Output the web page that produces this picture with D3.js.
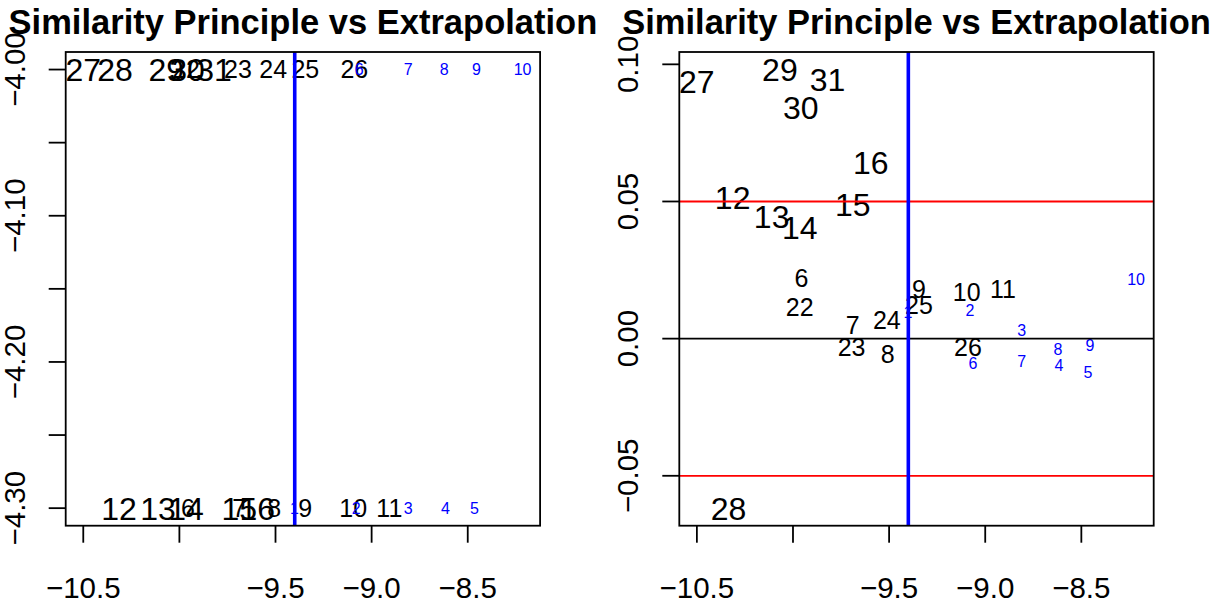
<!DOCTYPE html>
<html lang="en">
<head>
  <meta charset="UTF-8">
  <script src="https://d3js.org/d3.v7.min.js"></script>
  <style>
    body { margin: 0; background: #fff; }
    svg text { font-family: "Liberation Sans", Arial, Helvetica, sans-serif; }
    .title { font-weight: bold; font-size: 34.5px; }
    .tick-label { font-size: 29.5px; }
  </style>
</head>
<body>
  <div id="chart"></div>

  <script>
    // black labels (ids) with their x and y (right panel) values
    var blackIds = [6, 7, 8, 9, 10, 11, 12, 13, 14, 15, 16, 22, 23, 24, 25, 26, 27, 28, 29, 30, 31];
    var blackX = [-9.956, -9.689, -9.507, -9.345, -9.096, -8.908, -10.314, -10.111, -9.965, -9.689, -9.595,
                  -9.965, -9.695, -9.512, -9.345, -9.09, -10.5, -10.335, -10.068, -9.96, -9.82];
    var blackY = [0.0222, 0.0050, -0.0056, 0.0181, 0.0170, 0.0181, 0.0513, 0.0444, 0.0404, 0.0488, 0.0641,
                  0.0116, -0.0030, 0.0068, 0.0123, -0.0030, 0.0937, -0.0618, 0.0981, 0.0842, 0.0944];
    var blackLeftY = [-4.3, -4.3, -4.3, -4.3, -4.3, -4.3, -4.3, -4.3, -4.3, -4.3, -4.3,
                      -4.0, -4.0, -4.0, -4.0, -4.0, -4.0, -4.0, -4.0, -4.0, -4.0];
    var bigIds = [12, 13, 14, 15, 16, 27, 28, 29, 30, 31];

    // blue labels
    var blueIds = [1, 2, 3, 4, 5, 6, 7, 8, 9, 10];
    var blueX = [-9.402, -9.08, -8.81, -8.616, -8.465, -9.064, -8.81, -8.622, -8.455, -8.215];
    var blueY = [0.0097, 0.0105, 0.0032, -0.0096, -0.0122, -0.0089, -0.0081, -0.0038, -0.0023, 0.0218];
    var blueLeftY = [-4.3, -4.3, -4.3, -4.3, -4.3, -4.0, -4.0, -4.0, -4.0, -4.0];

    var xTicks = [-10.5, -10.0, -9.5, -9.0, -8.5];
    var xTickLabels = ["\u221210.5", "", "\u22129.5", "\u22129.0", "\u22128.5"];
    var leftYTicks = [-4.00, -4.05, -4.10, -4.15, -4.20, -4.25, -4.30];
    var leftYTickLabels = ["\u22124.00", "", "\u22124.10", "", "\u22124.20", "", "\u22124.30"];
    var rightYTicks = [0.10, 0.05, 0.00, -0.05];
    var rightYTickLabels = ["0.10", "0.05", "0.00", "\u22120.05"];

    var cutX = -9.4;
    var redLines = [0.05, -0.05];
    var titleText = "Similarity Principle vs Extrapolation";

    var width = 1225, height = 603;
    var plotTop = 52, plotBottom = 525.7;

    var svg = d3.select("#chart").append("svg")
      .attr("width", width)
      .attr("height", height);

    // R style 4% padding around the data range
    function padded(vals) {
      var e = d3.extent(vals);
      var p = (e[1] - e[0]) * 0.04;
      return [e[0] - p, e[1] + p];
    }

    var allX = blackX.concat(blueX);

    function drawPanel(left, right, yBlack, yBlue, yTicks, yTickLabels, hLines) {
      var g = svg.append("g");
      var x = d3.scaleLinear().domain(padded(allX)).range([left, right]);
      var y = d3.scaleLinear().domain(padded(yBlack.concat(yBlue))).range([plotBottom, plotTop]);

      // title
      g.append("text")
        .attr("class", "title")
        .attr("x", (left + right) / 2)
        .attr("y", 34)
        .attr("text-anchor", "middle")
        .text(titleText);

      // black labels
      g.selectAll(".blk")
        .data(blackIds)
        .enter().append("text")
        .attr("class", "blk")
        .attr("text-anchor", "middle")
        .style("font-size", function (d) { return bigIds.indexOf(d) >= 0 ? "32px" : "25px"; })
        .attr("x", function (d, i) { return x(blackX[i]); })
        .attr("y", function (d, i) {
          var s = bigIds.indexOf(d) >= 0 ? 32 : 25;
          return y(yBlack[i]) + 0.358 * s;
        })
        .text(function (d) { return d; });

      // blue labels
      g.selectAll(".blu")
        .data(blueIds)
        .enter().append("text")
        .attr("class", "blu")
        .attr("text-anchor", "middle")
        .attr("fill", "#0000ff")
        .style("font-size", "16px")
        .attr("x", function (d, i) { return x(blueX[i]); })
        .attr("y", function (d, i) { return y(yBlue[i]) + 0.358 * 16; })
        .text(function (d) { return d; });

      // reference lines
      hLines.forEach(function (h) {
        g.append("line")
          .attr("x1", left).attr("x2", right)
          .attr("y1", y(h.v)).attr("y2", y(h.v))
          .attr("stroke", h.c).attr("stroke-width", 1.8);
      });
      g.append("line")
        .attr("x1", x(cutX)).attr("x2", x(cutX))
        .attr("y1", plotTop).attr("y2", plotBottom)
        .attr("stroke", "#0000ff").attr("stroke-width", 3.6);

      // box
      g.append("rect")
        .attr("x", left).attr("y", plotTop)
        .attr("width", right - left).attr("height", plotBottom - plotTop)
        .attr("fill", "none").attr("stroke", "#000").attr("stroke-width", 1.8);

      // x axis
      var xa = g.append("g");
      xTicks.forEach(function (t, i) {
        xa.append("line")
          .attr("x1", x(t)).attr("x2", x(t))
          .attr("y1", plotBottom).attr("y2", plotBottom + 17)
          .attr("stroke", "#000").attr("stroke-width", 1.8);
        if (xTickLabels[i]) {
          xa.append("text")
            .attr("class", "tick-label")
            .attr("x", x(t)).attr("y", 598)
            .attr("text-anchor", "middle")
            .text(xTickLabels[i]);
        }
      });

      // y axis
      var ya = g.append("g");
      yTicks.forEach(function (t, i) {
        ya.append("line")
          .attr("x1", left - 17).attr("x2", left)
          .attr("y1", y(t)).attr("y2", y(t))
          .attr("stroke", "#000").attr("stroke-width", 1.8);
        if (yTickLabels[i]) {
          ya.append("text")
            .attr("class", "tick-label")
            .attr("text-anchor", "middle")
            .attr("transform", "translate(" + (left - 41) + "," + y(t) + ") rotate(-90)")
            .text(yTickLabels[i]);
        }
      });
    }

    drawPanel(65.7, 540.1, blackLeftY, blueLeftY, leftYTicks, leftYTickLabels, []);
    drawPanel(679.3, 1153.7, blackY, blueY, rightYTicks, rightYTickLabels, [
      { v: redLines[0], c: "#ff0000" },
      { v: redLines[1], c: "#ff0000" },
      { v: 0, c: "#000000" }
    ]);
  </script>
</body>
</html>
